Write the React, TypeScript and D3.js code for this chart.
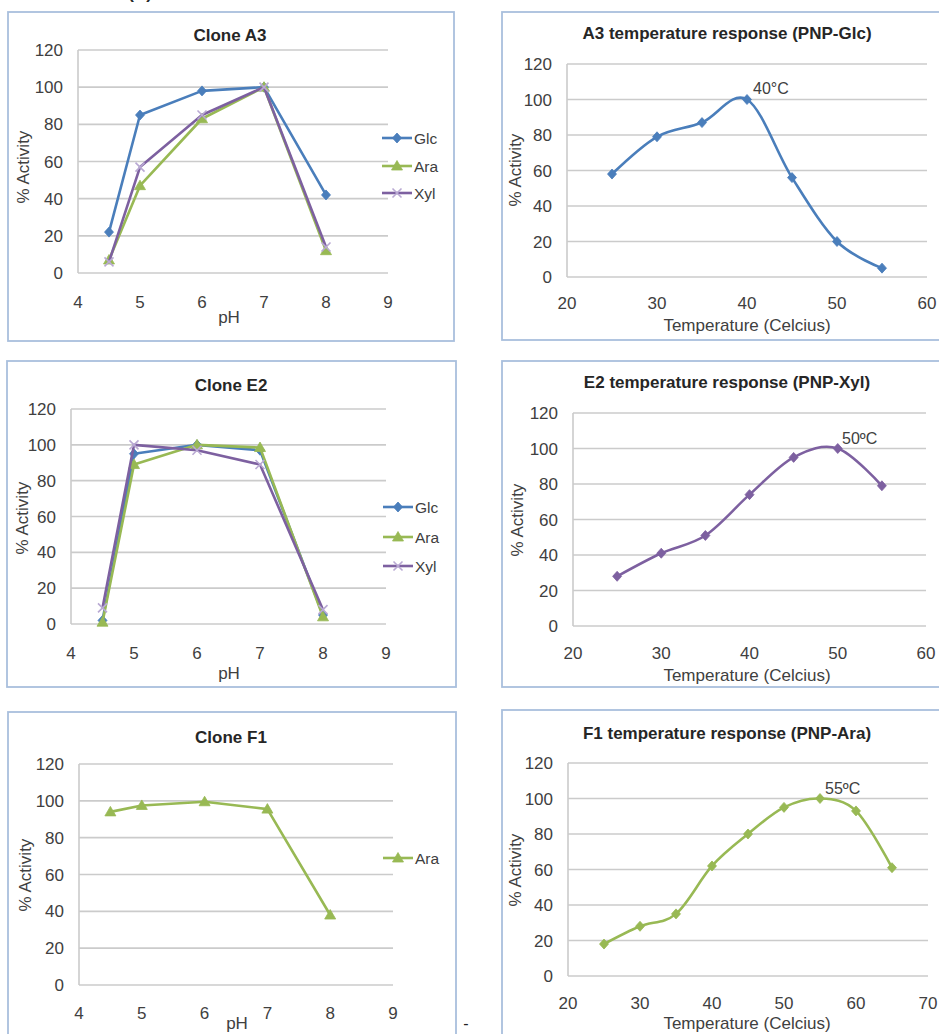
import React from 'react';
import * as d3 from 'd3';

// ---------- data ----------
const phLevels = [4.5, 5, 6, 7, 8];
const a3Glc = [22, 85, 98, 100, 42];
const a3Ara = [7, 47, 83, 100, 12];
const a3Xyl = [6, 57, 85, 100, 14];
const e2Glc = [2, 95, 100, 97, 5];
const e2Ara = [1, 89, 100, 98.5, 4];
const e2Xyl = [9, 100, 97, 89, 8];
const f1Ara = [94, 97.5, 99.5, 95.5, 38];

const tempA3 = [25, 30, 35, 40, 45, 50, 55];
const a3TempGlc = [58, 79, 87, 100, 56, 20, 5];
const tempE2 = [25, 30, 35, 40, 45, 50, 55];
const e2TempXyl = [28, 41, 51, 74, 95, 100, 79];
const tempF1 = [25, 30, 35, 40, 45, 50, 55, 60, 65];
const f1TempAra = [18, 28, 35, 62, 80, 95, 100, 93, 61];

const yTicks = [0, 20, 40, 60, 80, 100, 120];
const phTicks = [4, 5, 6, 7, 8, 9];
const tempTicks = [20, 30, 40, 50, 60];
const tempTicksF1 = [20, 30, 40, 50, 60, 70];

const COLORS: Record<string, string> = { Glc: '#4A7EBB', Ara: '#98B954', Xyl: '#7D60A0' };
const X_MARK = '#b9a9d3';
const FONT = "'Liberation Sans', Arial, sans-serif";
const TXT = '#404040';

type Marker = 'diamond' | 'triangle' | 'x';
interface Series { name: string; xs: number[]; ys: number[]; marker: Marker; smooth?: boolean }
interface PanelProps {
  frame: { x: number; y: number; w: number; h: number };
  plot: { x0: number; x1: number; yTop: number; yBot: number };
  xDomain: [number, number];
  xTicks: number[];
  series: Series[];
  title: string; titleX: number; titleY: number;
  xTitle: string; xTitleX: number; xTitleY: number;
  xTickY: number;
  yTitleX: number; yTitleY: number;
  legend?: { x: number; ys: number[] };
  annotation?: { text: string; x: number; y: number };
}

function markerPath(m: Marker, x: number, y: number) {
  if (m === 'diamond') return `M${x},${y - 5}L${x + 4.5},${y}L${x},${y + 5}L${x - 4.5},${y}Z`;
  if (m === 'triangle') return `M${x},${y - 5.5}L${x + 5.5},${y + 4}L${x - 5.5},${y + 4}Z`;
  return `M${x - 4.5},${y - 4.5}L${x + 4.5},${y + 4.5}M${x + 4.5},${y - 4.5}L${x - 4.5},${y + 4.5}`;
}

function Mark({ m, x, y, color }: { m: Marker; x: number; y: number; color: string }) {
  if (m === 'x') return <path d={markerPath(m, x, y)} stroke={X_MARK} strokeWidth={1.6} fill="none" />;
  return <path d={markerPath(m, x, y)} fill={color} stroke={color} strokeWidth={0.8} />;
}

function Panel(p: PanelProps) {
  const xs = d3.scaleLinear().domain(p.xDomain).range([p.plot.x0, p.plot.x1]);
  const ys = d3.scaleLinear().domain([0, 120]).range([p.plot.yBot, p.plot.yTop]);
  return (
    <g>
      <rect x={p.frame.x} y={p.frame.y} width={p.frame.w} height={p.frame.h} fill="#fff" stroke="#a9bfdd" strokeWidth={1.8} />
      <text x={p.titleX} y={p.titleY} textAnchor="middle" fontFamily={FONT} fontWeight="bold" fontSize={17} fill="#262626">{p.title}</text>
      {yTicks.map(t => (
        <g key={t}>
          <line x1={p.plot.x0} x2={p.plot.x1} y1={ys(t)} y2={ys(t)} stroke="#cbcbcb" strokeWidth={1.6} />
          <text x={p.plot.x0 - 15} y={ys(t) + 6} textAnchor="end" fontFamily={FONT} fontSize={17} fill={TXT}>{t}</text>
        </g>
      ))}
      <line x1={p.plot.x0} x2={p.plot.x0} y1={p.plot.yTop} y2={p.plot.yBot} stroke="#cbcbcb" strokeWidth={1.6} />
      {p.xTicks.map(t => (
        <text key={t} x={xs(t)} y={p.xTickY} textAnchor="middle" fontFamily={FONT} fontSize={17} fill={TXT}>{t}</text>
      ))}
      <text x={p.xTitleX} y={p.xTitleY} textAnchor="middle" fontFamily={FONT} fontSize={17} fill={TXT}>{p.xTitle}</text>
      <text transform={`translate(${p.yTitleX},${p.yTitleY}) rotate(-90)`} textAnchor="middle" fontFamily={FONT} fontSize={17} fill={TXT}>% Activity</text>
      {p.series.map(s => {
        const pts = s.xs.map((x, i) => [xs(x), ys(s.ys[i])] as [number, number]);
        const gen = d3.line().curve(s.smooth ? d3.curveCardinal.tension(0) : d3.curveLinear);
        const color = COLORS[s.name];
        return (
          <g key={s.name}>
            <path d={gen(pts) || ''} fill="none" stroke={color} strokeWidth={2.6} strokeLinejoin="round" />
            {pts.map(([x, y], i) => <Mark key={i} m={s.marker} x={x} y={y} color={color} />)}
          </g>
        );
      })}
      {p.legend && p.series.map((s, i) => {
        const ly = p.legend!.ys[i];
        const color = COLORS[s.name];
        return (
          <g key={'lg' + s.name}>
            <line x1={p.legend!.x} x2={p.legend!.x + 30} y1={ly} y2={ly} stroke={color} strokeWidth={2.6} />
            <Mark m={s.marker} x={p.legend!.x + 15} y={ly} color={color} />
            <text x={p.legend!.x + 32} y={ly + 5.5} fontFamily={FONT} fontSize={15.5} fill={TXT}>{s.name}</text>
          </g>
        );
      })}
      {p.annotation && (
        <text x={p.annotation.x} y={p.annotation.y} fontFamily={FONT} fontSize={16} fill={TXT}>{p.annotation.text}</text>
      )}
    </g>
  );
}

export default function App() {
  return (
    <svg width={939} height={1034} style={{ position: 'absolute', left: 0, top: 0, background: '#fff' }}>
      <rect x={0} y={0} width={939} height={1034} fill="#fff" />
      <text x={140} y={-1} textAnchor="middle" fontFamily={FONT} fontWeight="bold" fontSize={17} fill="#262626">(A)</text>
      <Panel
        frame={{ x: 8, y: 12, w: 446, h: 329 }}
        plot={{ x0: 78, x1: 388, yTop: 50, yBot: 273 }}
        xDomain={[4, 9]} xTicks={phTicks}
        series={[
          { name: 'Glc', xs: phLevels, ys: a3Glc, marker: 'diamond' },
          { name: 'Ara', xs: phLevels, ys: a3Ara, marker: 'triangle' },
          { name: 'Xyl', xs: phLevels, ys: a3Xyl, marker: 'x' },
        ]}
        title="Clone A3" titleX={230} titleY={41}
        xTitle="pH" xTitleX={229} xTitleY={323} xTickY={308}
        yTitleX={29} yTitleY={167}
        legend={{ x: 382, ys: [138, 166, 193] }}
      />
      <Panel
        frame={{ x: 502, y: 12, w: 460, h: 328 }}
        plot={{ x0: 567, x1: 927, yTop: 64, yBot: 277 }}
        xDomain={[20, 60]} xTicks={tempTicks}
        series={[{ name: 'Glc', xs: tempA3, ys: a3TempGlc, marker: 'diamond', smooth: true }]}
        title="A3 temperature response (PNP-Glc)" titleX={727} titleY={39}
        xTitle="Temperature (Celcius)" xTitleX={747} xTitleY={331} xTickY={309}
        yTitleX={521} yTitleY={170}
        annotation={{ text: '40°C', x: 753, y: 94 }}
      />
      <Panel
        frame={{ x: 7, y: 361, w: 449, h: 326 }}
        plot={{ x0: 71, x1: 386, yTop: 409, yBot: 624 }}
        xDomain={[4, 9]} xTicks={phTicks}
        series={[
          { name: 'Glc', xs: phLevels, ys: e2Glc, marker: 'diamond' },
          { name: 'Ara', xs: phLevels, ys: e2Ara, marker: 'triangle' },
          { name: 'Xyl', xs: phLevels, ys: e2Xyl, marker: 'x' },
        ]}
        title="Clone E2" titleX={231} titleY={391}
        xTitle="pH" xTitleX={229} xTitleY={679} xTickY={659}
        yTitleX={28} yTitleY={518}
        legend={{ x: 383, ys: [507, 537, 566] }}
      />
      <Panel
        frame={{ x: 502, y: 361, w: 460, h: 326 }}
        plot={{ x0: 573, x1: 926, yTop: 413, yBot: 626 }}
        xDomain={[20, 60]} xTicks={tempTicks}
        series={[{ name: 'Xyl', xs: tempE2, ys: e2TempXyl, marker: 'diamond', smooth: true }]}
        title="E2 temperature response (PNP-Xyl)" titleX={727} titleY={388}
        xTitle="Temperature (Celcius)" xTitleX={747} xTitleY={681} xTickY={659}
        yTitleX={523} yTitleY={520}
        annotation={{ text: '50ºC', x: 842, y: 444 }}
      />
      <Panel
        frame={{ x: 8, y: 712, w: 448, h: 400 }}
        plot={{ x0: 79, x1: 393, yTop: 764, yBot: 985 }}
        xDomain={[4, 9]} xTicks={phTicks}
        series={[{ name: 'Ara', xs: phLevels, ys: f1Ara, marker: 'triangle' }]}
        title="Clone F1" titleX={231} titleY={743}
        xTitle="pH" xTitleX={237} xTitleY={1029} xTickY={1019}
        yTitleX={31} yTitleY={875}
        legend={{ x: 383, ys: [858] }}
      />
      <Panel
        frame={{ x: 502, y: 710, w: 460, h: 400 }}
        plot={{ x0: 568, x1: 928, yTop: 763, yBot: 976 }}
        xDomain={[20, 70]} xTicks={tempTicksF1}
        series={[{ name: 'Ara', xs: tempF1, ys: f1TempAra, marker: 'diamond', smooth: true }]}
        title="F1 temperature response (PNP-Ara)" titleX={727} titleY={739}
        xTitle="Temperature (Celcius)" xTitleX={747} xTitleY={1029} xTickY={1009}
        yTitleX={521} yTitleY={870}
        annotation={{ text: '55ºC', x: 825, y: 794 }}
      />
      <text x={466} y={1029} textAnchor="middle" fontFamily={FONT} fontSize={16} fill="#222">-</text>
    </svg>
  );
}
